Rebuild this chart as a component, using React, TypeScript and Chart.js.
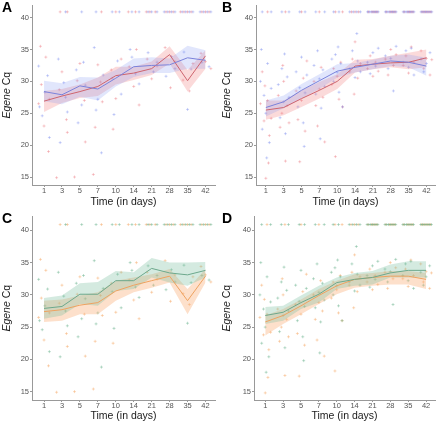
import React, { useEffect, useRef } from "react";
import { Chart, registerables } from "chart.js";
Chart.register(...registerables);

const days = ["1", "3", "5", "7", "10", "14", "21", "28", "35", "42"];
const dayIndex = [0, 1, 2, 3, 4, 5, 6, 7, 8, 9];
const yTicks = [15, 20, 25, 30, 35, 40];
const ceilingCq = 40.9;

// Panel A
const aBlueMean = [28.4, 27.9, 29.3, 28.8, 30.5, 32.3, 32.5, 32.6, 33.7, 33.3];
const aBlueLow = [26.9, 26.4, 27.6, 27.0, 29.2, 30.7, 31.3, 31.3, 32.0, 32.0];
const aBlueHigh = [30.1, 29.7, 30.7, 30.6, 31.8, 33.6, 33.8, 33.6, 35.6, 34.9];
const aRedMean = [26.9, 27.7, 28.4, 29.2, 30.9, 31.3, 32.0, 34.2, 30.1, 34.0];
const aRedLow = [25.2, 26.6, 27.4, 27.7, 29.5, 30.2, 31.0, 32.8, 28.4, 32.0];
const aRedHigh = [28.5, 28.8, 29.5, 30.6, 32.3, 32.3, 33.1, 35.5, 31.8, 34.9];

// Panel B
const bBlueMean = [25.9, 26.8, 28.6, 30.1, 31.6, 32.2, 32.7, 33.2, 33.0, 32.4];
const bBlueLow = [24.5, 25.8, 27.3, 28.8, 30.6, 31.4, 31.9, 32.4, 32.2, 30.9];
const bBlueHigh = [27.0, 27.8, 29.6, 31.1, 32.7, 32.9, 33.4, 34.0, 34.2, 33.7];
const bRedMean = [25.5, 25.9, 27.3, 28.6, 30.0, 32.4, 32.7, 32.9, 33.0, 33.7];
const bRedLow = [24.0, 24.7, 26.0, 27.3, 28.8, 31.4, 31.9, 32.2, 31.9, 32.2];
const bRedHigh = [27.0, 27.0, 28.6, 29.9, 31.1, 33.4, 33.5, 34.0, 34.5, 35.0];

// Panel C
const cGreenMean = [27.9, 28.2, 30.1, 30.1, 32.2, 32.2, 34.1, 33.4, 33.1, 33.8];
const cGreenLow = [26.3, 26.8, 28.6, 28.3, 30.6, 30.9, 32.7, 31.9, 31.4, 32.7];
const cGreenHigh = [29.5, 29.9, 31.8, 32.0, 33.7, 33.5, 35.7, 35.0, 35.0, 35.1];
const cOrangeMean = [27.4, 27.7, 28.4, 28.8, 30.6, 31.5, 32.2, 32.9, 29.1, 32.9];
const cOrangeLow = [25.8, 26.0, 27.0, 27.0, 29.1, 30.4, 31.1, 31.9, 27.0, 31.9];
const cOrangeHigh = [29.1, 29.3, 29.9, 30.4, 32.2, 32.7, 33.2, 34.0, 30.9, 34.0];

// Panel D
const dGreenMean = [26.8, 27.3, 28.8, 30.1, 31.9, 32.4, 32.7, 33.4, 33.8, 33.8];
const dGreenLow = [25.5, 26.0, 27.8, 28.8, 30.9, 31.4, 31.6, 32.7, 32.7, 32.7];
const dGreenHigh = [28.1, 28.3, 29.9, 31.4, 32.7, 33.4, 33.7, 34.7, 35.2, 35.2];
const dOrangeMean = [25.8, 26.8, 28.3, 29.9, 31.4, 32.4, 32.7, 32.9, 32.9, 32.4];
const dOrangeLow = [23.7, 25.5, 27.0, 28.6, 30.1, 31.1, 31.4, 31.6, 31.6, 30.9];
const dOrangeHigh = [26.8, 27.8, 29.3, 30.9, 32.2, 33.2, 33.4, 33.7, 33.7, 33.4];

// Individual samples, panels A and C (x = jittered day position)
const acGroup1X = [-0.3, -0.1, 0.2, 0.3, 0.05, -0.25, 0.8, 1.1, 1.3, 0.9, 1.2, 1.8, 2.1, 2.3, 1.9, 2.2, 2.8, 3.0, 3.3, 2.9, 3.2, 3.8, 4.1, 4.3, 3.9, 4.8, 5.1, 5.3, 4.9, 5.8, 6.1, 6.3, 6.8, 7.1, 7.3, 7.8, 8.2, 8.0, 8.8, 9.2];
const acGroup1Y = [32.4, 24.6, 30.9, 21.2, 28.3, 26.0, 33.5, 29.8, 25.2, 20.4, 27.5, 31.8, 26.3, 29.4, 23.5, 33.0, 35.3, 27.2, 31.0, 25.5, 18.8, 30.5, 33.2, 28.0, 24.8, 35.0, 31.2, 29.6, 33.8, 34.5, 31.5, 33.0, 30.8, 33.9, 32.0, 34.6, 31.9, 25.6, 33.0, 32.3];
const acGroup2X = [-0.2, 0.1, -0.3, 0.25, 0.0, -0.15, 0.3, 0.7, 1.0, 1.25, 0.85, 1.3, 1.7, 2.0, 2.25, 1.85, 2.3, 2.75, 3.0, 3.25, 2.85, 3.15, 3.75, 4.0, 4.3, 3.85, 4.75, 5.0, 5.3, 5.15, 5.75, 6.0, 6.3, 6.75, 7.05, 7.3, 7.75, 8.1, 8.3, 8.75, 9.0, 9.3];
const acGroup2Y = [35.5, 33.8, 26.5, 19.0, 23.0, 29.5, 27.2, 14.9, 31.5, 24.0, 28.7, 22.0, 15.0, 32.8, 27.0, 30.1, 20.5, 15.4, 32.6, 26.8, 22.8, 29.9, 31.8, 27.3, 33.5, 22.5, 32.3, 29.2, 26.3, 35.0, 33.5, 30.4, 32.4, 35.3, 29.0, 33.1, 30.2, 28.5, 32.8, 34.4, 33.1, 32.0];
const acCeil1X = [1.2, 2.1, 2.9, 3.8, 4.2, 4.9, 5.3, 5.8, 6.0, 6.3, 6.7, 6.9, 7.1, 7.3, 7.7, 7.9, 8.1, 8.3, 8.7, 8.9, 9.1, 9.3];
const acCeil2X = [0.9, 1.3, 3.2, 4.0, 4.7, 5.1, 5.7, 5.9, 6.2, 6.8, 7.0, 7.2, 7.6, 7.8, 8.0, 8.2, 8.8, 9.0, 9.2];

// Individual samples, panels B and D
const bdGroup1X = [-0.3, -0.2, -0.1, 0.0, 0.1, 0.2, 0.3, 0.05, -0.25, 0.7, 0.8, 0.9, 1.0, 1.1, 1.2, 1.3, 1.05, 1.7, 1.8, 1.9, 2.0, 2.1, 2.2, 2.3, 2.15, 2.7, 2.8, 2.9, 3.0, 3.1, 3.2, 3.3, 3.05, 3.7, 3.8, 3.9, 4.0, 4.1, 4.2, 4.3, 4.05, 4.7, 4.85, 5.0, 5.15, 5.3, 5.1, 5.7, 5.85, 6.0, 6.15, 6.3, 6.7, 6.85, 7.0, 7.15, 7.3, 7.7, 7.85, 8.0, 8.15, 8.3, 8.7, 8.85, 9.0, 9.2];
const bdGroup1Y = [30.0, 22.5, 27.8, 25.0, 32.8, 20.4, 28.9, 18.0, 35.0, 29.5, 24.3, 32.0, 26.8, 21.8, 30.7, 27.5, 34.3, 31.5, 26.0, 29.0, 33.8, 23.5, 28.2, 31.0, 19.8, 32.5, 28.0, 34.8, 30.4, 25.8, 31.8, 29.2, 21.0, 33.5, 30.0, 34.2, 31.4, 28.3, 32.8, 26.0, 35.4, 32.0, 34.8, 30.6, 33.2, 31.5, 37.5, 33.0, 31.2, 34.5, 32.4, 35.2, 34.0, 32.0, 33.6, 28.5, 35.5, 33.0, 34.8, 32.2, 35.2, 31.0, 33.5, 31.5, 32.8, 34.5];
const bdGroup2X = [-0.3, -0.2, -0.1, 0.0, 0.1, 0.2, 0.3, -0.05, 0.15, 0.7, 0.8, 0.9, 1.0, 1.1, 1.2, 1.3, 0.95, 1.7, 1.8, 1.9, 2.0, 2.1, 2.2, 2.3, 2.7, 2.8, 2.9, 3.0, 3.1, 3.2, 3.3, 3.7, 3.8, 3.9, 4.0, 4.1, 4.2, 4.3, 4.7, 4.85, 5.0, 5.15, 5.3, 4.95, 5.7, 5.85, 6.0, 6.15, 6.3, 6.7, 6.85, 7.0, 7.15, 7.3, 7.7, 7.85, 8.0, 8.15, 8.3, 8.7, 8.85, 9.0, 9.2, 9.3];
const bdGroup2Y = [26.5, 31.5, 23.8, 14.8, 27.0, 21.5, 24.2, 29.3, 17.2, 27.8, 22.8, 25.0, 30.0, 17.5, 26.2, 23.5, 32.5, 28.5, 24.0, 17.4, 27.0, 30.5, 22.2, 33.2, 30.0, 26.2, 23.0, 28.8, 32.2, 27.5, 20.5, 29.5, 32.0, 18.2, 30.8, 27.2, 33.0, 26.0, 31.5, 33.5, 36.2, 30.5, 32.8, 28.0, 32.0, 34.0, 30.8, 33.0, 31.6, 33.5, 31.0, 35.0, 32.5, 34.2, 32.5, 34.0, 31.3, 35.4, 33.0, 34.8, 32.0, 33.6, 31.0, 33.4];
const bdCeil1X = [-0.2, 0.3, 0.9, 1.3, 1.9, 2.2, 2.8, 3.3, 3.8, 4.1, 4.7, 4.9, 5.1, 5.3, 5.7, 5.8, 5.9, 6.0, 6.1, 6.2, 6.3, 6.7, 6.8, 6.9, 7.0, 7.1, 7.2, 7.3, 7.7, 7.8, 7.9, 8.0, 8.1, 8.2, 8.3, 8.7, 8.8, 8.9, 9.0, 9.1, 9.2, 9.3];
const bdCeil2X = [0.1, 1.1, 2.0, 3.0, 3.9, 4.3, 4.8, 5.0, 5.2, 5.75, 5.95, 6.05, 6.15, 6.25, 6.75, 6.95, 7.05, 7.15, 7.25, 7.75, 7.95, 8.05, 8.15, 8.25, 8.75, 8.85, 8.95, 9.05, 9.15, 9.25];

const FONT = '"Liberation Sans", Arial, sans-serif';

const palette = {
  blue: { line: "rgb(122,130,218)", band: "rgba(120,140,240,0.22)", pt: "rgba(100,120,235,0.32)" },
  red: { line: "rgb(205,100,110)", band: "rgba(242,120,120,0.27)", pt: "rgba(232,95,105,0.32)" },
  green: { line: "rgb(108,168,140)", band: "rgba(120,190,160,0.32)", pt: "rgba(90,168,128,0.38)" },
  orange: { line: "rgb(238,162,96)", band: "rgba(250,170,110,0.36)", pt: "rgba(245,160,90,0.4)" },
};

type Group = { mean: number[]; low: number[]; high: number[]; ptsX: number[]; ptsY: number[]; ceilX: number[]; col: { line: string; band: string; pt: string } };

type PanelDef = {
  letter: string;
  left: number;
  top: number;
  plotL: number;
  plotR: number;
  plotT: number;
  plotB: number;
  xMin: number;
  xMax: number;
  yMin: number;
  yMax: number;
  titlePad: number;
  groups: Group[];
};

const panels: PanelDef[] = [
  {
    letter: "A", left: 0, top: 0, plotL: 32, plotR: 218, plotT: 3, plotB: 185,
    xMin: -0.67, xMax: 9.53, yMin: 13.75, yMax: 41.9, titlePad: 3,
    groups: [
      { mean: aBlueMean, low: aBlueLow, high: aBlueHigh, ptsX: acGroup1X, ptsY: acGroup1Y, ceilX: acCeil1X, col: palette.blue },
      { mean: aRedMean, low: aRedLow, high: aRedHigh, ptsX: acGroup2X, ptsY: acGroup2Y, ceilX: acCeil2X, col: palette.red },
    ],
  },
  {
    letter: "B", left: 220, top: 0, plotL: 36, plotR: 218, plotT: 2, plotB: 185,
    xMin: -0.55, xMax: 9.48, yMin: 13.75, yMax: 41.9, titlePad: 3,
    groups: [
      { mean: bBlueMean, low: bBlueLow, high: bBlueHigh, ptsX: bdGroup1X, ptsY: bdGroup1Y, ceilX: bdCeil1X, col: palette.blue },
      { mean: bRedMean, low: bRedLow, high: bRedHigh, ptsX: bdGroup2X, ptsY: bdGroup2Y, ceilX: bdCeil2X, col: palette.red },
    ],
  },
  {
    letter: "C", left: 0, top: 211, plotL: 32, plotR: 218, plotT: 5, plotB: 189,
    xMin: -0.67, xMax: 9.53, yMin: 13.7, yMax: 42.15, titlePad: 0.5,
    groups: [
      { mean: cGreenMean, low: cGreenLow, high: cGreenHigh, ptsX: acGroup1X, ptsY: acGroup1Y, ceilX: acCeil1X, col: palette.green },
      { mean: cOrangeMean, low: cOrangeLow, high: cOrangeHigh, ptsX: acGroup2X, ptsY: acGroup2Y, ceilX: acCeil2X, col: palette.orange },
    ],
  },
  {
    letter: "D", left: 220, top: 211, plotL: 34, plotR: 218, plotT: 5, plotB: 189,
    xMin: -0.63, xMax: 9.5, yMin: 13.7, yMax: 42.15, titlePad: 0.5,
    groups: [
      { mean: dGreenMean, low: dGreenLow, high: dGreenHigh, ptsX: bdGroup1X, ptsY: bdGroup1Y, ceilX: bdCeil1X, col: palette.green },
      { mean: dOrangeMean, low: dOrangeLow, high: dOrangeHigh, ptsX: bdGroup2X, ptsY: bdGroup2Y, ceilX: bdCeil2X, col: palette.orange },
    ],
  },
];

const decorPlugin = {
  id: "decor",
  afterDraw(chart: any, _args: any, opts: any) {
    const ctx = chart.ctx;
    const { top, bottom } = chart.chartArea;
    ctx.save();
    ctx.translate(opts.titleX, (top + bottom) / 2);
    ctx.rotate(-Math.PI / 2);
    const italic = `italic 10.5px ${FONT}`;
    const normal = `10.5px ${FONT}`;
    ctx.font = italic;
    const w1 = ctx.measureText("Egene").width;
    ctx.font = normal;
    const w2 = ctx.measureText(" Cq").width;
    const x0 = -(w1 + w2) / 2;
    ctx.textBaseline = "middle";
    ctx.fillStyle = "#1a1a1a";
    ctx.font = italic;
    ctx.fillText("Egene", x0, 0);
    ctx.font = normal;
    ctx.fillText(" Cq", x0 + w1, 0);
    ctx.restore();
    ctx.save();
    ctx.font = `bold 14px ${FONT}`;
    ctx.fillStyle = "#000";
    ctx.textBaseline = "top";
    ctx.fillText(opts.letter, 2, 1);
    ctx.restore();
  },
};

function Panel({ p }: { p: PanelDef }) {
  const ref = useRef<HTMLCanvasElement | null>(null);
  useEffect(() => {
    if (!ref.current) return;
    const datasets: any[] = [];
    p.groups.forEach((g) => {
      datasets.push({
        data: dayIndex.map((x, i) => ({ x, y: g.mean[i] })),
        showLine: true, borderColor: g.col.line, borderWidth: 1, pointRadius: 0, fill: false, order: 0,
      });
    });
    p.groups.forEach((g) => {
      datasets.push({
        data: dayIndex.map((x, i) => ({ x, y: g.high[i] })),
        showLine: true, borderWidth: 0, borderColor: "rgba(0,0,0,0)", pointRadius: 0,
        fill: "+1", backgroundColor: g.col.band, order: 1,
      });
      datasets.push({
        data: dayIndex.map((x, i) => ({ x, y: g.low[i] })),
        showLine: true, borderWidth: 0, borderColor: "rgba(0,0,0,0)", pointRadius: 0, fill: false, order: 1,
      });
    });
    p.groups.forEach((g) => {
      const pts = g.ptsX.map((x, i) => ({ x, y: g.ptsY[i] })).concat(g.ceilX.map((x) => ({ x, y: ceilingCq })));
      datasets.push({
        data: pts, showLine: false, pointStyle: "cross", pointRadius: 1.5, pointBorderWidth: 1,
        pointBorderColor: g.col.pt, pointBackgroundColor: g.col.pt, order: 2,
      });
    });
    const chart = new Chart(ref.current, {
      type: "scatter",
      data: { datasets },
      plugins: [decorPlugin],
      options: {
        animation: false,
        responsive: false,
        devicePixelRatio: 1,
        layout: { padding: { left: 0, top: p.plotT, right: 220 - p.plotR, bottom: 0 } },
        plugins: {
          legend: { display: false },
          tooltip: { enabled: false },
          decor: { letter: p.letter, titleX: 7 },
        } as any,
        scales: {
          x: {
            type: "linear",
            min: p.xMin,
            max: p.xMax,
            afterBuildTicks: (s: any) => { s.ticks = dayIndex.map((v) => ({ value: v })); },
            afterFit: (s: any) => { s.height = 211 - p.plotB; },
            ticks: {
              callback: (v: any) => days[Math.round(Number(v))] ?? "",
              font: { family: FONT, size: 7.5, lineHeight: 1 }, color: "#555", padding: 0, maxRotation: 0, autoSkip: false,
            },
            grid: { display: true, drawOnChartArea: false, drawTicks: true, tickLength: 2, color: "#999" },
            border: { display: true, color: "#999", width: 1 },
            title: { display: true, text: "Time (in days)", font: { family: FONT, size: 10.5, lineHeight: 1.1 }, color: "#1a1a1a", padding: { top: 0, bottom: p.titlePad } },
          },
          y: {
            type: "linear",
            min: p.yMin,
            max: p.yMax,
            afterBuildTicks: (s: any) => { s.ticks = yTicks.map((v) => ({ value: v })); },
            afterFit: (s: any) => { s.width = p.plotL; },
            ticks: { font: { family: FONT, size: 7.5 }, color: "#555", padding: 1 },
            grid: { display: true, drawOnChartArea: false, drawTicks: true, tickLength: 2, color: "#999" },
            border: { display: true, color: "#999", width: 1 },
          },
        },
      } as any,
    });
    return () => chart.destroy();
  }, [p]);
  return (
    <canvas
      ref={ref}
      width={220}
      height={211}
      style={{ position: "absolute", left: p.left, top: p.top, width: 220, height: 211 }}
    />
  );
}

export default function App() {
  return (
    <div style={{ position: "absolute", left: 0, top: 0, width: 440, height: 422, background: "#fff" }}>
      {panels.map((p) => (
        <Panel key={p.letter} p={p} />
      ))}
    </div>
  );
}
